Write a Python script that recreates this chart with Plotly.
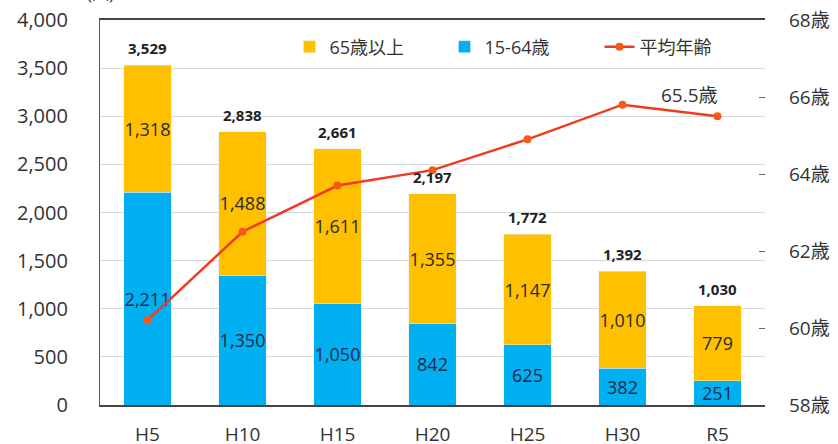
import plotly.graph_objects as go

years = ['H5', 'H10', 'H15', 'H20', 'H25', 'H30', 'R5']
age_15_64 = [2211, 1350, 1050, 842, 625, 382, 251]
age_65_over = [1318, 1488, 1611, 1355, 1147, 1010, 779]
totals = [3529, 2838, 2661, 2197, 1772, 1392, 1030]
avg_age = [60.2, 62.5, 63.7, 64.1, 64.9, 65.8, 65.5]

FONT = 'Open Sans, Noto Sans CJK JP'

fig = go.Figure()

fig.add_trace(go.Bar(
    x=years, y=age_15_64, name='15-64歳',
    marker=dict(color='#00B0F0'),
    text=[f'{v:,}' for v in age_15_64],
    textposition='inside', insidetextanchor='middle', constraintext='none',
    textangle=0,
    textfont=dict(size=18, color='#1B2A48', family=FONT),
    legendrank=2,
))
fig.add_trace(go.Bar(
    x=years, y=age_65_over, name='65歳以上',
    marker=dict(color='#FFC000'),
    text=[f'{v:,}' for v in age_65_over],
    textposition='inside', insidetextanchor='middle', constraintext='none',
    textangle=0,
    textfont=dict(size=18, color='#2A2A2A', family=FONT),
    legendrank=1,
))
fig.add_trace(go.Scatter(
    x=years, y=avg_age, name='平均年齢', yaxis='y2',
    mode='lines+markers',
    line=dict(color='#F03A24', width=2.5),
    marker=dict(color='#F55A1A', size=8),
    legendrank=3,
))

# totals above bars
for yr, t in zip(years, totals):
    fig.add_annotation(x=yr, y=t, text=f'<b>{t:,}</b>', showarrow=False,
                       yanchor='bottom', yshift=5,
                       font=dict(size=15, color='#222222', family=FONT))

# label for the last average age
fig.add_annotation(x=years[-1], y=avg_age[-1], yref='y2',
                   text=f'{avg_age[-1]}歳', showarrow=False,
                   yanchor='bottom', xshift=-28, yshift=6,
                   font=dict(size=19, color='#333333', family=FONT))

fig.add_annotation(x=0, y=1, xref='paper', yref='paper', text='(人)',
                   showarrow=False, xanchor='center', yanchor='bottom',
                   yshift=13, font=dict(size=17, color='#333333', family=FONT))

fig.update_layout(
    width=838, height=444,
    margin=dict(l=100, r=73, t=20, b=39, autoexpand=False),
    barmode='stack', bargap=0.5,
    plot_bgcolor='white', paper_bgcolor='white',
    font=dict(family=FONT, size=18, color='#333333'),
    showlegend=True,
    legend=dict(orientation='h', x=0.285, y=0.93, xanchor='left', yanchor='middle',
                bgcolor='rgba(255,255,255,0)', font=dict(size=18, color='#333333'),
                traceorder='normal', entrywidth=110, itemwidth=30),
    xaxis=dict(showline=True, linecolor='#444444', linewidth=1.5, mirror=True,
               ticks='', tickfont=dict(size=19, color='#333333'),
               ticklabelstandoff=11, automargin=False),
    yaxis=dict(range=[0, 4000], dtick=500, tickformat=',',
               showgrid=True, gridcolor='#D9D9D9', gridwidth=1,
               showline=True, linecolor='#555555', linewidth=1.2,
               ticks='', tickfont=dict(size=20, color='#333333'),
               ticklabelstandoff=27, zeroline=False, automargin=False),
    yaxis2=dict(range=[58, 68], dtick=2, overlaying='y', side='right',
                showgrid=False, zeroline=False, ticksuffix='歳',
                ticks='inside', ticklen=6, tickcolor='#666666',
                tickfont=dict(size=19, color='#333333'),
                ticklabelstandoff=23, automargin=False),
)

fig.write_html('out.html', config={'displayModeBar': False},
               post_script="document.body.style.margin='0';")
